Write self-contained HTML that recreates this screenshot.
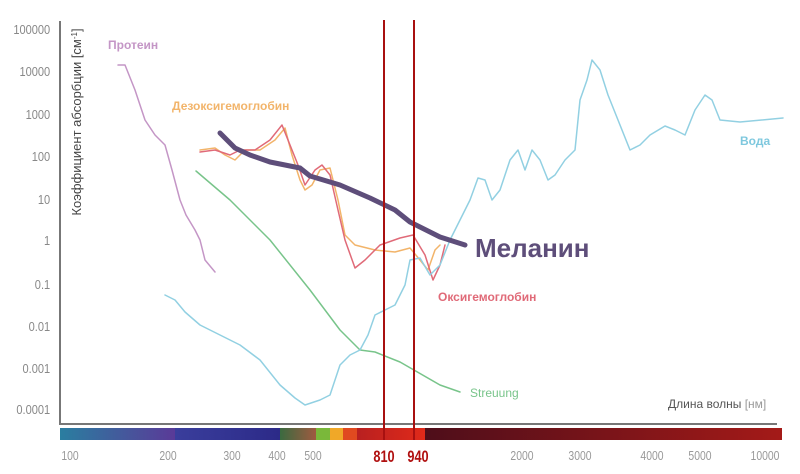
<!DOCTYPE html><html><head><meta charset="utf-8"><style>body{margin:0;background:#fff}svg{display:block}text{font-family:"Liberation Sans","DejaVu Sans",sans-serif}</style></head><body>
<svg width="800" height="474" viewBox="0 0 800 474" xmlns="http://www.w3.org/2000/svg">
<defs>
<linearGradient id="g1"><stop offset="0" stop-color="#2a7ea0"/><stop offset="1" stop-color="#5a3a98"/></linearGradient>
<linearGradient id="g2"><stop offset="0" stop-color="#3a3e9c"/><stop offset="1" stop-color="#2c2a88"/></linearGradient>
<linearGradient id="g3"><stop offset="0" stop-color="#3a6a40"/><stop offset="1" stop-color="#a05a40"/></linearGradient>
<linearGradient id="g4"><stop offset="0" stop-color="#b82020"/><stop offset="1" stop-color="#e02a1a"/></linearGradient>
<linearGradient id="g5"><stop offset="0" stop-color="#4e0e1a"/><stop offset="1" stop-color="#a41a18"/></linearGradient>
</defs>
<g fill="#888" font-size="13" text-anchor="end" transform="scale(0.85,1)">
<text x="59" y="34">100000</text><text x="59" y="76">10000</text><text x="59" y="119">1000</text><text x="59" y="161">100</text><text x="59" y="204">10</text><text x="59" y="245">1</text><text x="59" y="289">0.1</text><text x="59" y="331">0.01</text><text x="59" y="373">0.001</text><text x="59" y="414">0.0001</text>
</g>
<text transform="translate(81,122) rotate(-90)" font-size="13" fill="#444" text-anchor="middle">Коэффициент абсорбции [см<tspan font-size="8" dy="-4">-1</tspan><tspan dy="4">]</tspan></text>
<path d="M60 21 V424 H777" fill="none" stroke="#777" stroke-width="2"/>
<rect x="60" y="428" width="115" height="12" fill="url(#g1)"/>
<rect x="175" y="428" width="105" height="12" fill="url(#g2)"/>
<rect x="280" y="428" width="36" height="12" fill="url(#g3)"/>
<rect x="316" y="428" width="14" height="12" fill="#7ab83a"/>
<rect x="330" y="428" width="13" height="12" fill="#f0a828"/>
<rect x="343" y="428" width="14" height="12" fill="#e04a20"/>
<rect x="357" y="428" width="68" height="12" fill="url(#g4)"/>
<rect x="425" y="428" width="357" height="12" fill="url(#g5)"/>
<g fill="#999" font-size="13" text-anchor="middle">
<text transform="translate(70,460) scale(0.8,1)">100</text><text transform="translate(168,460) scale(0.8,1)">200</text><text transform="translate(232,460) scale(0.8,1)">300</text><text transform="translate(277,460) scale(0.8,1)">400</text><text transform="translate(313,460) scale(0.8,1)">500</text><text transform="translate(522,460) scale(0.8,1)">2000</text><text transform="translate(580,460) scale(0.8,1)">3000</text><text transform="translate(652,460) scale(0.8,1)">4000</text><text transform="translate(700,460) scale(0.8,1)">5000</text><text transform="translate(765,460) scale(0.8,1)">10000</text>
</g>
<g fill="#b01010" font-size="17" font-weight="bold" text-anchor="middle"><text transform="translate(384,462) scale(0.75,1)">810</text><text transform="translate(418,462) scale(0.75,1)">940</text></g>
<g fill="none" stroke-linejoin="round" stroke-linecap="round">
<path d="M118 65 L125 65 135 90 145 120 155 135 165 145 172 170 180 200 186 215 195 230 200 240 205 260 215 272" stroke="#c496c6" stroke-width="1.5"/>
<path d="M200 150 215 148 225 155 235 160 245 150 260 150 275 140 285 128 292 155 300 180 305 190 312 185 320 170 330 168 338 200 345 235 355 245 375 250 395 252 410 248 420 260 428 270 435 250 440 245" stroke="#f2b46a" stroke-width="1.5"/>
<path d="M200 152 215 150 230 155 240 150 255 150 270 140 282 125 290 145 298 165 305 185 315 170 322 165 330 175 338 210 345 240 355 268 365 260 380 245 400 238 413 235 425 255 433 280 440 265 445 245" stroke="#e06a78" stroke-width="1.5"/>
<path d="M196 171 230 200 270 240 310 290 340 330 360 350 375 352 400 362 440 385 460 392" stroke="#78c48a" stroke-width="1.5"/>
<path d="M165 295 175 300 185 312 200 325 220 335 240 345 260 360 280 385 295 398 305 405 320 400 330 395 340 365 350 355 360 350 368 335 375 315 385 310 395 305 405 285 410 260 420 258 430 275 440 265 450 240 460 220 470 200 478 178 485 180 492 200 500 190 510 160 518 150 525 170 532 150 540 160 548 180 555 175 565 160 575 150 580 100 587 80 592 60 600 70 608 95 618 120 630 150 640 145 650 135 665 126 675 130 685 135 695 110 705 95 712 100 720 120 740 122 783 118" stroke="#92d0e2" stroke-width="1.5"/>
<path d="M220 133 235 148 250 155 270 162 300 168 310 176 340 185 370 198 395 210 410 222 440 237 465 245" stroke="#5e4e7a" stroke-width="5"/>
</g>
<g stroke="#a81010" stroke-width="2"><line x1="384" y1="20" x2="384" y2="440"/><line x1="414" y1="20" x2="414" y2="440"/></g>
<g font-weight="bold" font-size="12">
<text x="108" y="49" fill="#c496c6">Протеин</text>
<text x="172" y="110" fill="#f2b46a">Дезоксигемоглобин</text>
<text x="740" y="145" fill="#7ec8de">Вода</text>
<text x="438" y="301" fill="#e06a78">Оксигемоглобин</text>
</g>
<text x="470" y="397" font-size="12" fill="#78c48a">Streuung</text>
<text x="475" y="257" font-size="26" font-weight="bold" fill="#5e4e7a">Меланин</text>
<text x="668" y="408" font-size="12" fill="#555">Длина волны <tspan fill="#999">[нм]</tspan></text>
</svg></body></html>
